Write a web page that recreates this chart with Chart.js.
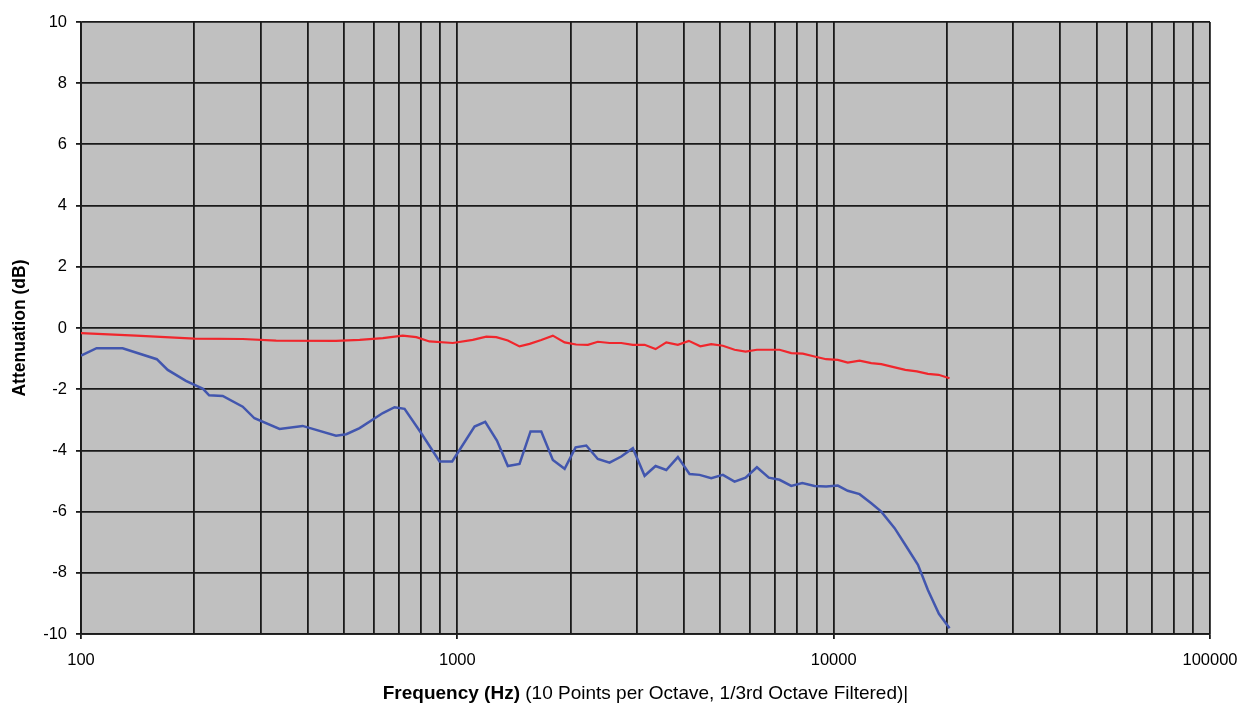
<!DOCTYPE html>
<html><head><meta charset="utf-8">
<script src="https://cdn.jsdelivr.net/npm/chart.js@4/dist/chart.umd.min.js"></script>
<style>
html,body{margin:0;padding:0;background:#fff;}
#wrap{position:relative;width:1243px;height:704px;overflow:hidden;}
#xt{position:absolute;left:81px;width:1129px;top:682px;line-height:22px;text-align:center;font-size:19px;font-family:"Liberation Sans",Arial,sans-serif;color:#000;white-space:nowrap;}
</style>
</head><body>
<div id="wrap">
<canvas id="c" width="1243" height="704"></canvas>
<div id="xt"><b>Frequency (Hz)</b> (10 Points per Octave, 1/3rd Octave Filtered)|</div>
</div>
<script>
// Blue series (frequency in Hz, attenuation in dB)
const freqBlue = [100,110,129,159,170,190,211,219,238,269,289,337,388,476,507,550,634,681,724,802,897,969,1111,1186,1274,1362,1463,1565,1671,1794,1928,2062,2201,2362,2538,2726,2927,3145,3363,3591,3855,4140,4402,4729,5077,5453,5834,6252,6726,7181,7714,8253,8896,9550,10256,10900,11718,12587,13383,14520,15600,16750,17800,19040,20320];
const dbBlue = [-0.90,-0.66,-0.66,-1.02,-1.37,-1.73,-1.99,-2.20,-2.22,-2.57,-2.95,-3.30,-3.20,-3.52,-3.47,-3.27,-2.78,-2.59,-2.64,-3.44,-4.36,-4.36,-3.22,-3.07,-3.68,-4.51,-4.44,-3.38,-3.38,-4.31,-4.60,-3.90,-3.84,-4.28,-4.40,-4.20,-3.93,-4.83,-4.51,-4.64,-4.22,-4.77,-4.80,-4.91,-4.80,-5.02,-4.89,-4.55,-4.89,-4.96,-5.16,-5.07,-5.16,-5.18,-5.15,-5.32,-5.43,-5.73,-6.00,-6.54,-7.14,-7.74,-8.56,-9.34,-9.81];
// Red series
const freqRed = [100,140,200,269,330,476,550,634,716,778,843,973,1099,1194,1269,1362,1463,1556,1671,1794,1928,2068,2223,2362,2538,2726,2927,3145,3363,3591,3855,4123,4422,4729,5077,5453,5834,6252,7181,7714,8280,8896,9550,10256,10900,11718,12587,13383,14440,15500,16640,17800,19000,20320];
const dbRed = [-0.17,-0.25,-0.35,-0.36,-0.41,-0.42,-0.39,-0.33,-0.25,-0.30,-0.44,-0.49,-0.39,-0.28,-0.30,-0.41,-0.60,-0.52,-0.39,-0.25,-0.47,-0.54,-0.55,-0.45,-0.49,-0.49,-0.55,-0.55,-0.69,-0.47,-0.55,-0.42,-0.60,-0.53,-0.58,-0.71,-0.77,-0.71,-0.71,-0.82,-0.84,-0.93,-1.02,-1.04,-1.13,-1.07,-1.15,-1.18,-1.28,-1.37,-1.42,-1.50,-1.53,-1.64];
// Axis ticks
const xGridValues = [100,200,300,400,500,600,700,800,900,1000,2000,3000,4000,5000,6000,7000,8000,9000,10000,20000,30000,40000,50000,60000,70000,80000,90000,100000];
const xLabelValues = [100,1000,10000,100000];
const yTickValues = [10,8,6,4,2,0,-2,-4,-6,-8,-10];

const FONT = '"Liberation Sans", Arial, sans-serif';

const bgPlugin = {
  id:'bg',
  beforeDraw(chart){
    const {ctx, chartArea:a} = chart;
    ctx.save();
    ctx.fillStyle = '#C0C0C0';
    ctx.fillRect(a.left, a.top, a.right-a.left, a.bottom-a.top);
    ctx.restore();
  }
};

new Chart(document.getElementById('c'), {
  type:'line',
  data:{datasets:[
    {label:'Red', data:freqRed.map((f,i)=>({x:f,y:dbRed[i]})), borderColor:'#F0262C', borderWidth:2.2, pointRadius:0, tension:0, fill:false},
    {label:'Blue', data:freqBlue.map((f,i)=>({x:f,y:dbBlue[i]})), borderColor:'#4256AE', borderWidth:2.5, pointRadius:0, tension:0, fill:false}
  ]},
  options:{
    responsive:false, animation:false, devicePixelRatio:1,
    layout:{padding:{left:0,top:22,right:33,bottom:0}},
    plugins:{legend:{display:false}, tooltip:{enabled:false}},
    scales:{
      x:{
        type:'logarithmic', min:100, max:100000,
        afterFit(s){ s.height = 70; s.paddingLeft = 0; s.paddingRight = 0; },
        afterBuildTicks(s){ s.ticks = xGridValues.map(v=>({value:v})); },
        ticks:{autoSkip:false, maxRotation:0, color:'#000', padding:12, font:{family:FONT, size:16.5},
          callback(v){ return xLabelValues.includes(v) ? String(v) : ''; }},
        grid:{color:'#1a1a1a', lineWidth:1.8, tickLength:5,
          tickColor:(c)=> (c.tick && xLabelValues.includes(c.tick.value)) ? '#1a1a1a' : 'rgba(0,0,0,0)'},
        border:{color:'#1a1a1a', width:1.8}
      },
      y:{
        min:-10, max:10,
        afterFit(s){ s.width = 81; s.paddingTop = 0; s.paddingBottom = 0; },
        afterBuildTicks(s){ s.ticks = yTickValues.map(v=>({value:v})); },
        ticks:{color:'#000', padding:9, font:{family:FONT, size:16.5}},
        grid:{color:'#1a1a1a', lineWidth:1.8, tickLength:5, tickColor:'#1a1a1a'},
        border:{color:'#1a1a1a', width:1.8},
        title:{display:true, text:'Attenuation (dB)', color:'#000', font:{family:FONT, size:17.5, weight:'bold'}, padding:{top:10,bottom:0}}
      }
    }
  },
  plugins:[bgPlugin]
});
</script>
</body></html>
